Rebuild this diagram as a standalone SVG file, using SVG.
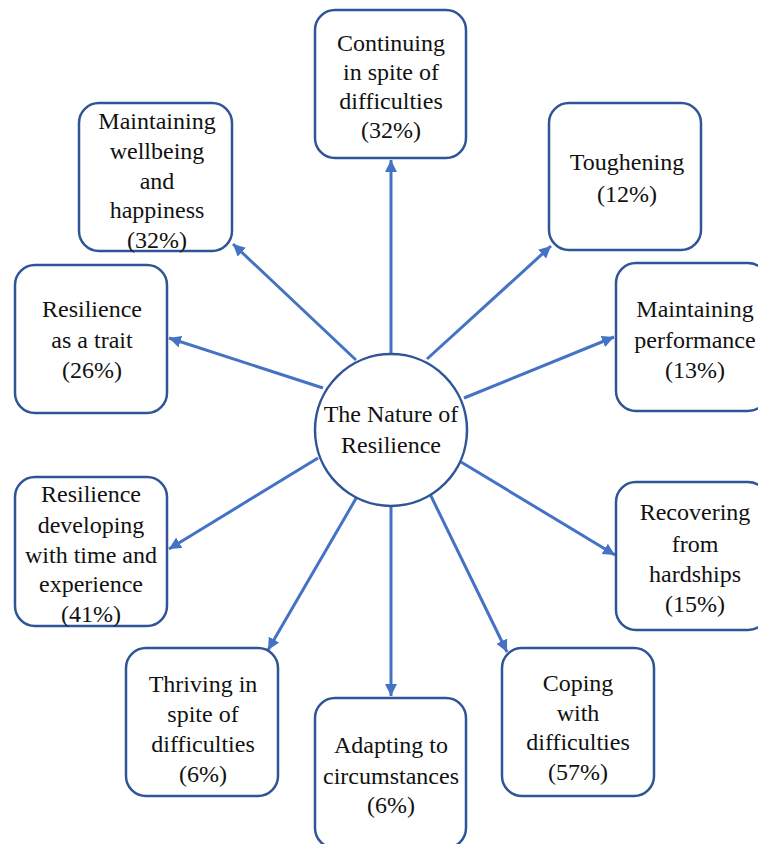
<svg xmlns="http://www.w3.org/2000/svg" width="758" height="844" viewBox="0 0 758 844">
<style>
.box{fill:#fff;stroke:#2F5597;stroke-width:2.5}
.c{stroke:#4472C4;stroke-width:3;fill:none;marker-end:url(#ah)}
</style>
<defs>
<marker id="ah" markerUnits="userSpaceOnUse" markerWidth="13" markerHeight="13" refX="12" refY="6" orient="auto">
<path d="M0,0 L12,6 L0,12 z" fill="#4472C4"/>
</marker>
</defs>
<rect width="758" height="844" fill="#fff"/>
<g id="connectors">
<line class="c" x1="391" y1="354" x2="391" y2="160"/>
<line class="c" x1="427" y1="359" x2="551" y2="246"/>
<line class="c" x1="464" y1="398" x2="614" y2="337"/>
<line class="c" x1="461" y1="462" x2="615" y2="555"/>
<line class="c" x1="430" y1="494" x2="507" y2="652"/>
<line class="c" x1="391" y1="506" x2="391" y2="696"/>
<line class="c" x1="358" y1="495" x2="268" y2="650"/>
<line class="c" x1="318" y1="458" x2="169" y2="549"/>
<line class="c" x1="323" y1="388" x2="169" y2="338"/>
<line class="c" x1="356" y1="360" x2="233" y2="244"/>
</g>
<g id="center">
<circle cx="391" cy="430" r="76" fill="#fff" stroke="#2F5597" stroke-width="2.5"/>
<text style="font-family:'Liberation Serif',serif !important" font-size="24" fill="#111" text-anchor="middle" x="391" y="422">The Nature of</text>
<text style="font-family:'Liberation Serif',serif !important" font-size="24" fill="#111" text-anchor="middle" x="391" y="453">Resilience</text>
</g>
<g id="continuing">
<rect class="box" x="315" y="10" width="151" height="148" rx="20"/>
<text style="font-family:'Liberation Serif',serif !important" font-size="24" fill="#111" text-anchor="middle" x="391" y="51">Continuing</text>
<text style="font-family:'Liberation Serif',serif !important" font-size="24" fill="#111" text-anchor="middle" x="391" y="80">in spite of</text>
<text style="font-family:'Liberation Serif',serif !important" font-size="24" fill="#111" text-anchor="middle" x="391" y="109">difficulties</text>
<text style="font-family:'Liberation Serif',serif !important" font-size="24" fill="#111" text-anchor="middle" x="391" y="138">(32%)</text>
</g>
<g id="wellbeing">
<rect class="box" x="79" y="103" width="153" height="148" rx="20"/>
<text style="font-family:'Liberation Serif',serif !important" font-size="24" fill="#111" text-anchor="middle" x="157" y="129">Maintaining</text>
<text style="font-family:'Liberation Serif',serif !important" font-size="24" fill="#111" text-anchor="middle" x="157" y="159">wellbeing</text>
<text style="font-family:'Liberation Serif',serif !important" font-size="24" fill="#111" text-anchor="middle" x="157" y="189">and</text>
<text style="font-family:'Liberation Serif',serif !important" font-size="24" fill="#111" text-anchor="middle" x="157" y="218">happiness</text>
<text style="font-family:'Liberation Serif',serif !important" font-size="24" fill="#111" text-anchor="middle" x="157" y="248">(32%)</text>
</g>
<g id="trait">
<rect class="box" x="15" y="265" width="152" height="148" rx="20"/>
<text style="font-family:'Liberation Serif',serif !important" font-size="24" fill="#111" text-anchor="middle" x="92" y="317">Resilience</text>
<text style="font-family:'Liberation Serif',serif !important" font-size="24" fill="#111" text-anchor="middle" x="92" y="348">as a trait</text>
<text style="font-family:'Liberation Serif',serif !important" font-size="24" fill="#111" text-anchor="middle" x="92" y="378">(26%)</text>
</g>
<g id="toughening">
<rect class="box" x="549" y="103" width="152" height="147" rx="20"/>
<text style="font-family:'Liberation Serif',serif !important" font-size="24" fill="#111" text-anchor="middle" x="627" y="170">Toughening</text>
<text style="font-family:'Liberation Serif',serif !important" font-size="24" fill="#111" text-anchor="middle" x="627" y="202">(12%)</text>
</g>
<g id="performance">
<rect class="box" x="616" y="263" width="152" height="148" rx="20"/>
<text style="font-family:'Liberation Serif',serif !important" font-size="24" fill="#111" text-anchor="middle" x="695" y="317">Maintaining</text>
<text style="font-family:'Liberation Serif',serif !important" font-size="24" fill="#111" text-anchor="middle" x="695" y="348">performance</text>
<text style="font-family:'Liberation Serif',serif !important" font-size="24" fill="#111" text-anchor="middle" x="695" y="378">(13%)</text>
</g>
<g id="developing">
<rect class="box" x="15" y="477" width="152" height="149" rx="20"/>
<text style="font-family:'Liberation Serif',serif !important" font-size="24" fill="#111" text-anchor="middle" x="91" y="502">Resilience</text>
<text style="font-family:'Liberation Serif',serif !important" font-size="24" fill="#111" text-anchor="middle" x="91" y="533">developing</text>
<text style="font-family:'Liberation Serif',serif !important" font-size="24" fill="#111" text-anchor="middle" x="91" y="563">with time and</text>
<text style="font-family:'Liberation Serif',serif !important" font-size="24" fill="#111" text-anchor="middle" x="91" y="592">experience</text>
<text style="font-family:'Liberation Serif',serif !important" font-size="24" fill="#111" text-anchor="middle" x="91" y="622">(41%)</text>
</g>
<g id="recovering">
<rect class="box" x="616" y="482" width="152" height="148" rx="20"/>
<text style="font-family:'Liberation Serif',serif !important" font-size="24" fill="#111" text-anchor="middle" x="695" y="520">Recovering</text>
<text style="font-family:'Liberation Serif',serif !important" font-size="24" fill="#111" text-anchor="middle" x="695" y="552">from</text>
<text style="font-family:'Liberation Serif',serif !important" font-size="24" fill="#111" text-anchor="middle" x="695" y="582">hardships</text>
<text style="font-family:'Liberation Serif',serif !important" font-size="24" fill="#111" text-anchor="middle" x="695" y="612">(15%)</text>
</g>
<g id="thriving">
<rect class="box" x="126" y="648" width="152" height="148" rx="20"/>
<text style="font-family:'Liberation Serif',serif !important" font-size="24" fill="#111" text-anchor="middle" x="203" y="692">Thriving in</text>
<text style="font-family:'Liberation Serif',serif !important" font-size="24" fill="#111" text-anchor="middle" x="203" y="722">spite of</text>
<text style="font-family:'Liberation Serif',serif !important" font-size="24" fill="#111" text-anchor="middle" x="203" y="752">difficulties</text>
<text style="font-family:'Liberation Serif',serif !important" font-size="24" fill="#111" text-anchor="middle" x="203" y="782">(6%)</text>
</g>
<g id="adapting">
<rect class="box" x="315" y="698" width="151" height="150" rx="20"/>
<text style="font-family:'Liberation Serif',serif !important" font-size="24" fill="#111" text-anchor="middle" x="391" y="753">Adapting to</text>
<text style="font-family:'Liberation Serif',serif !important" font-size="24" fill="#111" text-anchor="middle" x="391" y="784">circumstances</text>
<text style="font-family:'Liberation Serif',serif !important" font-size="24" fill="#111" text-anchor="middle" x="391" y="813">(6%)</text>
</g>
<g id="coping">
<rect class="box" x="502" y="648" width="152" height="148" rx="20"/>
<text style="font-family:'Liberation Serif',serif !important" font-size="24" fill="#111" text-anchor="middle" x="578" y="691">Coping</text>
<text style="font-family:'Liberation Serif',serif !important" font-size="24" fill="#111" text-anchor="middle" x="578" y="721">with</text>
<text style="font-family:'Liberation Serif',serif !important" font-size="24" fill="#111" text-anchor="middle" x="578" y="750">difficulties</text>
<text style="font-family:'Liberation Serif',serif !important" font-size="24" fill="#111" text-anchor="middle" x="578" y="780">(57%)</text>
</g>
</svg>
